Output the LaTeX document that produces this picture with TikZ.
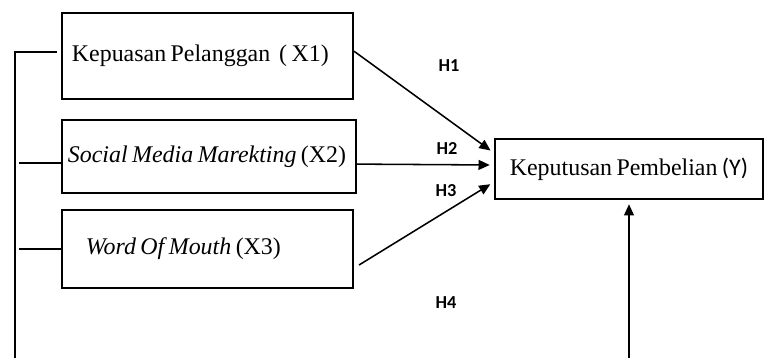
\documentclass[tikz,border=0pt]{standalone}
\usepackage{fontspec}
\setmainfont{Liberation Serif}[WordSpace=0.75]
\newfontfamily\labelfont{Carlito}
\usetikzlibrary{arrows.meta,calc}

\begin{document}
\begin{tikzpicture}[x=0.025cm,y=-0.025cm,>={Triangle[length=8pt,width=7pt]},shorten >=3pt,line width=1.1pt,
    var node/.style={rectangle,draw,line width=1.4pt,align=flush left,font=\fontsize{17}{20}\selectfont},
    h node/.style={font=\labelfont\bfseries\fontsize{13}{15}\selectfont}]

    \useasboundingbox (0,0) rectangle (765,358);

    \node (1) at (207.5,56) [var node, minimum width=7.275cm, minimum height=2.15cm, text width=6.775cm, inner xsep=0.25cm]{\mbox{Kepuasan Pelanggan\ \ ( X1)}};
    \node (2) at (209,156.5) [var node, minimum width=7.35cm, minimum height=1.825cm, text width=7.05cm, inner xsep=0.15cm]{\mbox{\textit{Social Media Marekting} (X2)}};
    \node (3) at (207.5,249) [var node, minimum width=7.275cm, minimum height=1.95cm, text width=6.075cm, inner xsep=0.6cm]{\mbox{\textit{Word Of Mouth} (X3)}};

    \node (4) at (629,169) [var node, align=center, minimum width=6.7cm, minimum height=1.5cm]{Keputusan Pembelian {\labelfont(Y)}};

    \node (h1) at (449,65.5) [h node]{H1};
    \node (h2) at (447,148) [h node]{H2};
    \node (h3) at (446,191) [h node]{H3};
    \node (h4) at (446,302.5) [h node]{H4};

    \coordinate (bot) at (15,358);
    \coordinate (a2) at ([yshift=-0.16cm]2.west);
    \coordinate (end) at (4.south |- bot);

    \draw (bot) |- ([yshift=0.1cm]1.west);
    \draw (a2) -- (bot |- a2);
    \draw (3.west) -- (bot |- 3.west);

    \path[->]
        ([yshift=0.12cm]1.east) edge ([yshift=0.4cm]4.west)
        ([yshift=-0.19cm]2.east) edge ([yshift=0.1cm]4.west)
        ([xshift=0.125cm,yshift=-0.4cm]3.east) edge ([yshift=-0.325cm]4.west)
        (end) edge (4.south)
    ;
\end{tikzpicture}
\end{document}
